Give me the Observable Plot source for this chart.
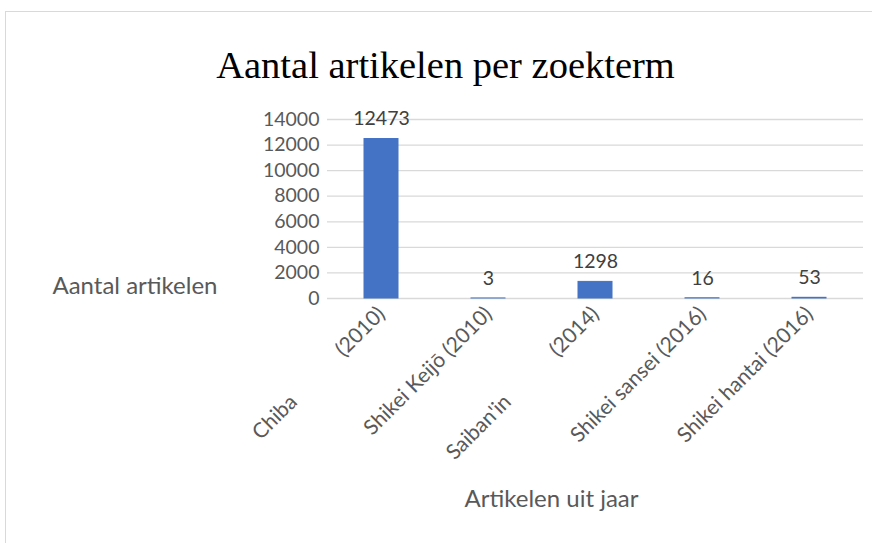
<!DOCTYPE html>
<html>
<head>
<meta charset="utf-8">
<script src="https://cdn.jsdelivr.net/npm/d3@7"></script>
<script src="https://cdn.jsdelivr.net/npm/@observablehq/plot@0.6"></script>
<style>
  html, body { margin: 0; padding: 0; background: #fff; overflow: hidden; }
  #wrap { position: relative; width: 872px; height: 543px; }
  #border { position: absolute; left: 5px; top: 11px; width: 1000px; height: 1000px; border: 1px solid #d9d9d9; box-sizing: border-box; }
  #chart { position: absolute; left: 0; top: 0; }
</style>
</head>
<body>
<div id="wrap"><div id="border"></div><div id="chart"></div></div>
<script>
const GAP = "\u00A0".repeat(12);
const categories = ["Chiba (2010)", "Shikei Keijō (2010)", "Saiban'in (2014)", "Shikei sansei (2016)", "Shikei hantai (2016)"];
const tickLabels = ["Chiba" + GAP + "(2010)", "Shikei Keijō (2010)", "Saiban'in" + GAP + "(2014)", "Shikei sansei (2016)", "Shikei hantai (2016)"];
const values = [12473, 3, 1298, 16, 53];
const yTicks = [0, 2000, 4000, 6000, 8000, 10000, 12000, 14000];
const title = "Aantal artikelen per zoekterm";
const yLabel = "Aantal artikelen";
const xLabel = "Artikelen uit jaar";

const data = categories.map((c, i) => ({category: c, value: values[i]}));
const labelOf = new Map(categories.map((c, i) => [c, tickLabels[i]]));

const chart = Plot.plot({
  width: 872,
  height: 543,
  marginTop: 119,
  marginBottom: 245,
  marginLeft: 327,
  marginRight: 9,
  style: {fontFamily: "Lato", background: "transparent", overflow: "visible"},
  x: {domain: categories, paddingInner: 0.68, paddingOuter: 0.34},
  y: {domain: [0, 14000], ticks: yTicks},
  marks: [
    Plot.gridY(yTicks, {stroke: "#d9d9d9", strokeOpacity: 1, strokeWidth: 1.3}),
    Plot.barY(data, {x: "category", y: "value", fill: "#4472C4", stroke: "#4472C4", strokeWidth: 1}),
    Plot.text(data, {x: "category", y: "value", text: d => String(d.value), dy: -20, lineAnchor: "middle", fontSize: 19.5, fill: "#404040"}),
    Plot.axisY({ticks: yTicks, tickSize: 0, tickPadding: 8, fontSize: 19.5, color: "#595959", label: null, tickFormat: d => String(d)}),
    Plot.axisX({tickRotate: -45, tickSize: 0, tickPadding: 12, fontSize: 21, color: "#595959", label: null, tickFormat: d => labelOf.get(d)}),
    Plot.text([yLabel], {frameAnchor: "bottom-left", text: d => d, textAnchor: "end", dx: -110, dy: -12, fontSize: 24, fill: "#595959", lineAnchor: "middle"}),
    Plot.text([xLabel], {frameAnchor: "bottom", text: d => d, dx: -44, dy: 201, fontSize: 24, fill: "#595959", lineAnchor: "middle"}),
    Plot.text([title], {frameAnchor: "top", text: d => d, dx: -150, dy: -42, lineAnchor: "bottom", fontSize: 38.5, fontFamily: "Liberation Serif", fill: "#000"})
  ]
});
document.getElementById("chart").appendChild(chart);
</script>
</body>
</html>
